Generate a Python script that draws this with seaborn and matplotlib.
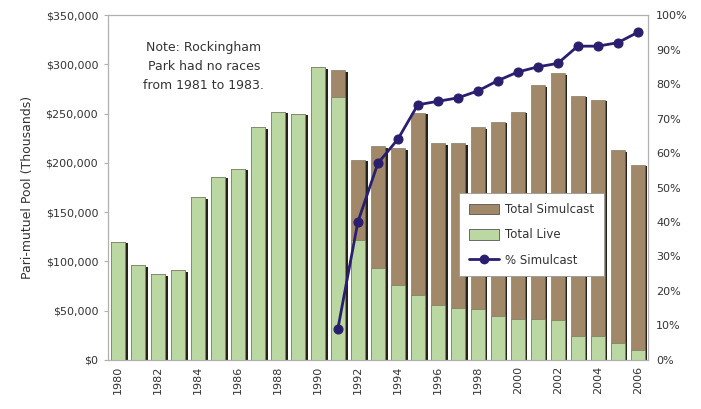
import matplotlib
matplotlib.use("Agg")
import matplotlib.pyplot as plt
import matplotlib.transforms as mtransforms
from matplotlib.lines import Line2D
from matplotlib.patches import Patch
from matplotlib.ticker import FuncFormatter, MultipleLocator
import numpy as np
import pandas as pd
import seaborn as sns

# Rockingham Park pari-mutuel pools, in thousands of dollars
years = list(range(1980, 2007))
total_pool = [120, 96, 87, 91, 165, 186, 194, 236, 252, 250, 297, 294, 203,
              217, 215, 251, 220, 220, 236, 242, 252, 279, 291, 268, 264, 213, 198]
total_live = [120, 96, 87, 91, 165, 186, 194, 236, 252, 250, 297, 267, 122,
              93, 76, 66, 56, 53, 52, 45, 42, 42, 41, 24, 24, 17, 10]
pct_years = list(range(1991, 2007))
pct_simulcast = [9, 40, 57, 64, 74, 75, 76, 78, 81, 83.5, 85, 86, 91, 91, 92, 95]

xtick_years = list(range(1980, 2007, 2))

BROWN = "#a08869"
GREEN = "#bcd8a2"
SHADOW = "#25221c"
NAVY = "#2a1e6e"
TEXT = "#333333"
FRAME = "#b0b0b0"

sns.set_style("white")
plt.rcParams["font.family"] = ["DejaVu Sans"]

df = pd.DataFrame({"year": [str(y) for y in years],
                   "total": total_pool, "live": total_live})

fig = plt.figure(figsize=(7.01, 4.09), dpi=100)
ax = fig.add_axes([0.154, 0.12, 0.77, 0.843])

# dark side shadow behind each bar
sns.barplot(data=df, x="year", y="total", color=SHADOW, width=0.72,
            saturation=1, ax=ax, zorder=1)
n_shadow = len(ax.patches)
shift = mtransforms.ScaledTranslation(2.5 / 100, -1.5 / 100, fig.dpi_scale_trans)
for p in ax.patches[:n_shadow]:
    p.set_transform(ax.transData + shift)
    p.set_linewidth(0)

sns.barplot(data=df, x="year", y="total", color=BROWN, width=0.72,
            saturation=1, ax=ax, zorder=2)
sns.barplot(data=df, x="year", y="live", color=GREEN, width=0.72,
            saturation=1, ax=ax, zorder=3)
for p in ax.patches[n_shadow:]:
    p.set_edgecolor("#6f6a5c")
    p.set_linewidth(0.4)

ax.set_ylim(0, 350)
ax.set_xlim(-0.5, len(years) - 0.5)
ax.yaxis.set_major_locator(MultipleLocator(50))
ax.yaxis.set_major_formatter(FuncFormatter(
    lambda v, _: "$0" if v == 0 else "${:,.0f}".format(v * 1000)))
ax.set_xticks([years.index(y) for y in xtick_years])
ax.set_xticklabels([str(y) for y in xtick_years], rotation=90)
ax.set_xlabel("")
ax.set_ylabel("Pari-mutuel Pool (Thousands)", fontsize=9, color=TEXT, labelpad=8)
ax.tick_params(axis="y", which="major", length=3, color=FRAME, labelsize=8,
               labelcolor=TEXT, pad=4)
ax.tick_params(axis="x", length=0, labelsize=8, labelcolor=TEXT, pad=4)
for s in ax.spines.values():
    s.set_color(FRAME)
    s.set_linewidth(0.8)

# share of handle that is simulcast, on the right-hand scale
ax2 = ax.twinx()
sns.lineplot(x=[years.index(y) for y in pct_years], y=pct_simulcast, ax=ax2,
             color=NAVY, linewidth=2, marker="o", markersize=6.5,
             markeredgecolor=NAVY, zorder=5)
ax2.set_ylim(0, 100)
ax2.yaxis.set_major_locator(MultipleLocator(10))
ax2.yaxis.set_major_formatter(FuncFormatter(lambda v, _: f"{v:.0f}%"))
ax2.tick_params(axis="y", length=0, labelsize=8, labelcolor=TEXT, pad=6)
for s in ax2.spines.values():
    s.set_color(FRAME)
    s.set_linewidth(0.8)

ax.text(4.3, 324, "Note: Rockingham\nPark had no races\nfrom 1981 to 1983.",
        ha="center", va="top", fontsize=9, color=TEXT, linespacing=1.6,
        zorder=6)

handles = [Patch(facecolor=BROWN, edgecolor="#555555", linewidth=0.6),
           Patch(facecolor=GREEN, edgecolor="#555555", linewidth=0.6),
           Line2D([], [], color=NAVY, linewidth=2, marker="o", markersize=6)]
leg = ax2.legend(handles, ["Total Simulcast", "Total Live", "% Simulcast"],
                 loc="upper left", bbox_to_anchor=(0.64, 0.5), fontsize=8.5,
                 frameon=True, fancybox=False, framealpha=1, edgecolor="#999999",
                 handlelength=2.6, handleheight=1.0, labelspacing=1.05,
                 borderpad=0.8, handletextpad=0.5)
for t in leg.get_texts():
    t.set_color(TEXT)
leg.get_frame().set_linewidth(0.6)
leg.set_zorder(10)

fig.savefig("out.png", dpi=100)
